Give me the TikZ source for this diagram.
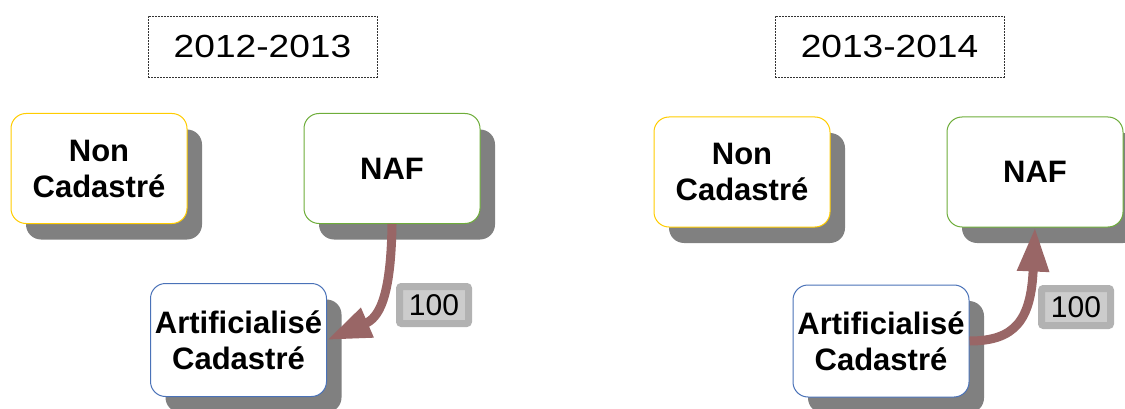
\documentclass[tikz,border=0pt]{standalone}
\usepackage{fontspec}
\setmainfont{Liberation Sans}
\newfontfamily\titlefont[FakeStretch=1.16]{Liberation Sans}
\usetikzlibrary{positioning,shadows,arrows.meta}
\definecolor{yellowline}{HTML}{FFCC00}
\definecolor{greenline}{HTML}{6EAD3A}
\definecolor{blueline}{HTML}{4A72B8}
\definecolor{flow}{HTML}{996666}
\definecolor{shadowgray}{HTML}{808080}
\tikzset{
  year/.style={draw=black!80, line width=0.8pt, dash pattern=on 2pt off 1pt,
    minimum width=229pt, minimum height=61pt, inner sep=0pt,
    font=\titlefont\fontsize{32}{36}\selectfont},
  landbox/.style={draw=#1, line width=1pt, fill=white, rounded corners=15pt,
    minimum width=176pt, minimum height=110pt, inner sep=0pt, align=center,
    font=\bfseries\fontsize{31}{36}\selectfont,
    drop shadow={shadow xshift=15pt, shadow yshift=-16pt, fill=shadowgray, opacity=1}},
  flowarrow/.style={draw=flow, line width=9pt,
    -{Triangle[length=44pt,width=30pt,fill=flow]}},
  amount/.style={fill=black!20, draw=black!30, line width=7pt, rounded corners=2pt,
    minimum width=69pt, minimum height=37pt, inner sep=0pt,
    font=\fontsize{30}{34}\selectfont}
}
\begin{document}
\begin{tikzpicture}[x=1pt,y=-1pt]
			\useasboundingbox (0,0) rectangle (1125,409);
			% 2012-2013
			\node[year](year1)		at (262.5,46.5)		{2012-2013};
			\node[landbox=yellowline](non1)	at (99,168.5)	{Non\\Cadastré};
			\node[landbox=greenline](naf1)	[right=116pt of non1]	{NAF};
			\node[landbox=blueline, minimum height=113pt](art1)	at (238.5,340)	{Artificialisé\\Cadastré};
			\node[amount](val1)		at (434,305)		{100};
			\draw[flowarrow](naf1.south) .. controls (391,300) and (378,318) .. (art1.east);
			% 2013-2014
			\node[year](year2)		at (889.5,46.5)		{2013-2014};
			\node[landbox=yellowline](non2)	at (742,172)	{Non\\Cadastré};
			\node[landbox=greenline](naf2)	[right=116pt of non2]	{NAF};
			\node[landbox=blueline, minimum height=112pt](art2)	at (881,341)	{Artificialisé\\Cadastré};
			\node[amount](val2)		at (1076,307)		{100};
			\draw[flowarrow](art2.east) .. controls (1015,341) and (1031,320) .. (naf2.south);
		\end{tikzpicture}
\end{document}
